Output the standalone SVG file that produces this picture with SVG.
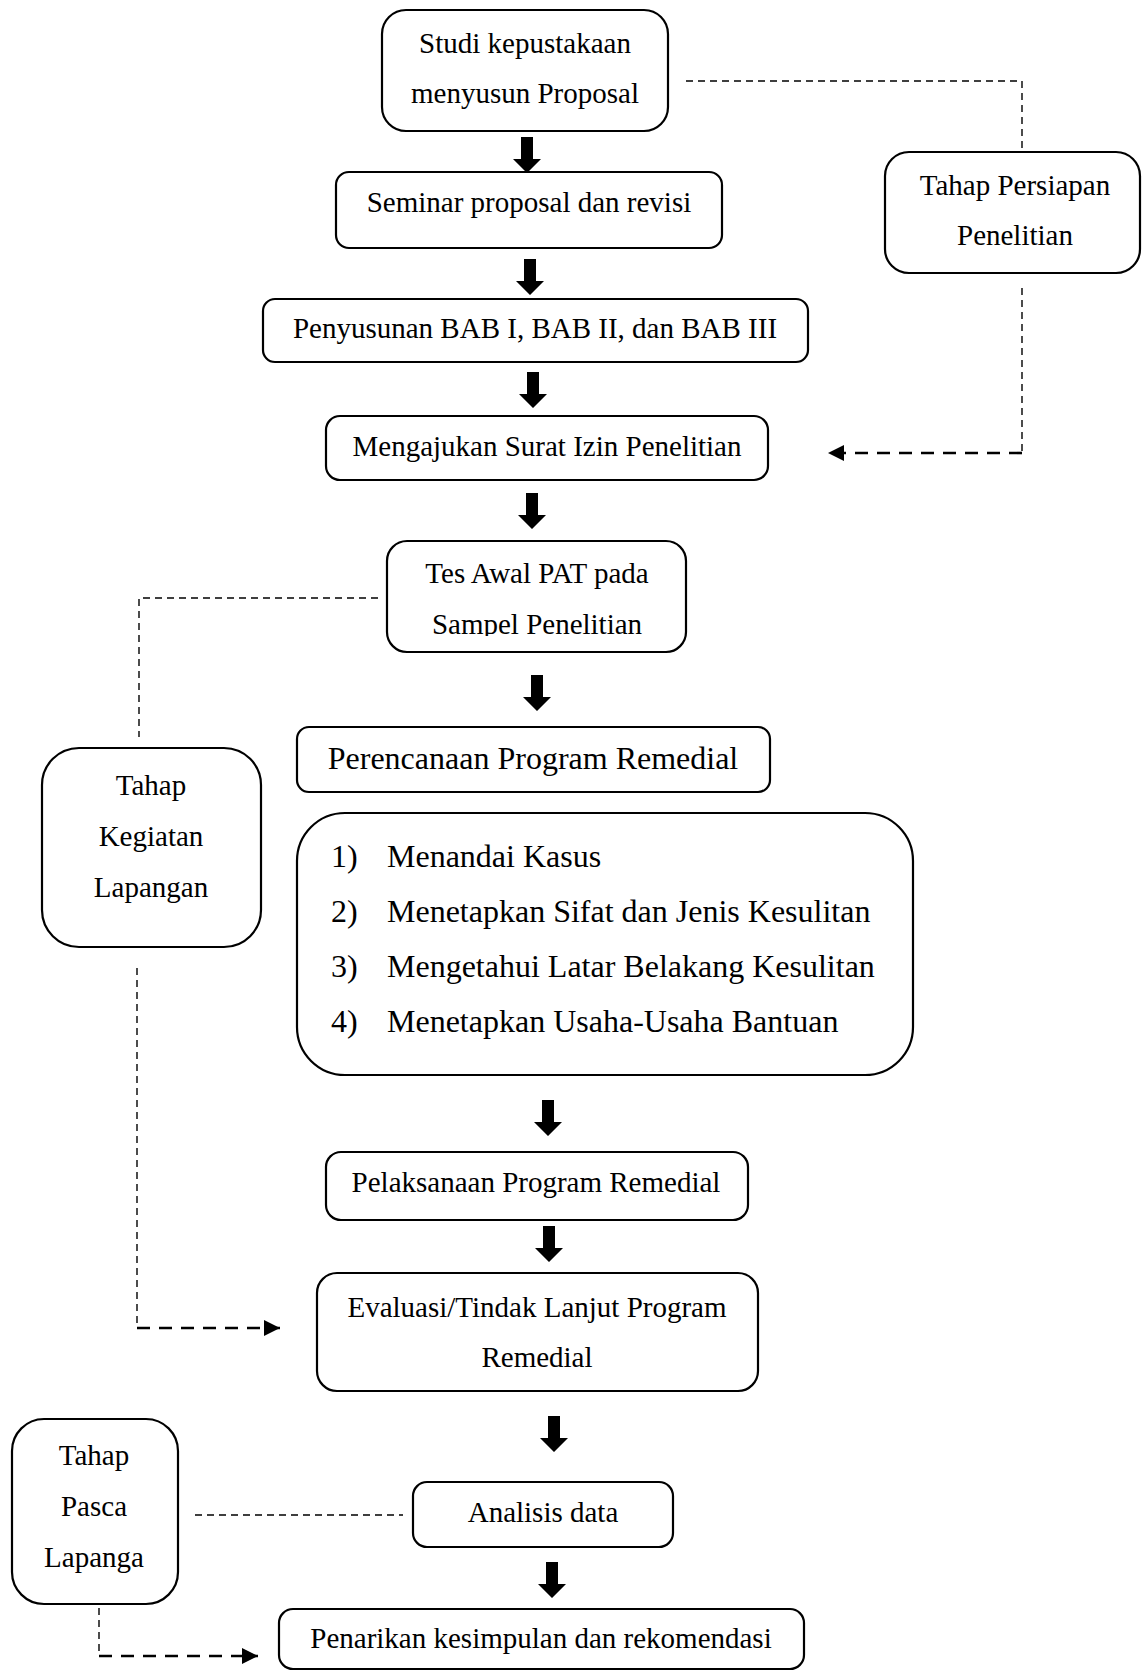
<svg xmlns="http://www.w3.org/2000/svg" xmlns:xlink="http://www.w3.org/1999/xlink" width="1142" height="1672" viewBox="0 0 1142 1672">
<style>
.box{fill:#fff;stroke:#000;stroke-width:2.2}
.t{font-family:"Liberation Serif","Times New Roman",serif;font-size:29px;fill:#000;text-anchor:middle}
.tl{font-family:"Liberation Serif","Times New Roman",serif;font-size:32px;fill:#000}
.thin{fill:none;stroke:#000;stroke-width:1.4;stroke-dasharray:7 5}
.thick{fill:none;stroke:#000;stroke-width:2.6;stroke-dasharray:13 9}
.blk{fill:#000}
</style>
<defs>
<path id="blk" d="M-6,0 H6 V22 H14 L0,36 L-14,22 H-6 Z"/>
<marker id="ah" markerUnits="userSpaceOnUse" markerWidth="16" markerHeight="16" refX="16" refY="8" orient="auto">
<path d="M0,0 L16,8 L0,16 Z" fill="#000"/>
</marker>
<clipPath id="clipTes"><rect x="380" y="540" width="320" height="96"/></clipPath>
</defs>
<rect width="1142" height="1672" fill="#fff"/>

<g id="connectors">
<polyline class="thin" points="686,81 1022,81 1022,148"/>
<polyline class="thin" points="1022,288 1022,453"/>
<line class="thick" x1="1022" y1="453" x2="828" y2="453" marker-end="url(#ah)"/>
<polyline class="thin" points="378,598 139,598 139,737"/>
<polyline class="thin" points="137,968 137,1328"/>
<line class="thick" x1="137" y1="1328" x2="280" y2="1328" marker-end="url(#ah)"/>
<line class="thin" x1="195" y1="1515" x2="403" y2="1515"/>
<polyline class="thin" points="99,1608 99,1656"/>
<line class="thick" x1="99" y1="1656" x2="258" y2="1656" marker-end="url(#ah)"/>
<use xlink:href="#blk" href="#blk" x="527" y="137"/>
<use xlink:href="#blk" href="#blk" x="530" y="259"/>
<use xlink:href="#blk" href="#blk" x="533" y="372"/>
<use xlink:href="#blk" href="#blk" x="532" y="493"/>
<use xlink:href="#blk" href="#blk" x="537" y="675"/>
<use xlink:href="#blk" href="#blk" x="548" y="1100"/>
<use xlink:href="#blk" href="#blk" x="549" y="1226"/>
<use xlink:href="#blk" href="#blk" x="554" y="1416"/>
<use xlink:href="#blk" href="#blk" x="552" y="1562"/>
</g>

<g id="studi">
<rect class="box" x="382" y="10" width="286" height="121" rx="24"/>
<text class="t" x="525" y="53">Studi kepustakaan</text>
<text class="t" x="525" y="103">menyusun Proposal</text>
</g>

<g id="seminar">
<rect class="box" x="336" y="172" width="386" height="76" rx="13"/>
<text class="t" x="529" y="212">Seminar proposal dan revisi</text>
</g>

<g id="penyusunan">
<rect class="box" x="263" y="299" width="545" height="63" rx="12"/>
<text class="t" x="535" y="338">Penyusunan BAB I, BAB II, dan BAB III</text>
</g>

<g id="mengajukan">
<rect class="box" x="326" y="416" width="442" height="64" rx="14"/>
<text class="t" x="547" y="456">Mengajukan Surat Izin Penelitian</text>
</g>

<g id="tes">
<rect class="box" x="387" y="541" width="299" height="111" rx="20"/>
<text class="t" x="537" y="583">Tes Awal PAT pada</text>
<text class="t" x="537" y="634" clip-path="url(#clipTes)">Sampel Penelitian</text>
</g>

<g id="persiapan">
<rect class="box" x="885" y="152" width="255" height="121" rx="24"/>
<text class="t" x="1015" y="195">Tahap Persiapan</text>
<text class="t" x="1015" y="245">Penelitian</text>
</g>

<g id="kegiatan">
<rect class="box" x="42" y="748" width="219" height="199" rx="37"/>
<text class="t" x="151" y="795">Tahap</text>
<text class="t" x="151" y="846">Kegiatan</text>
<text class="t" x="151" y="897">Lapangan</text>
</g>

<g id="perencanaan">
<rect class="box" x="297" y="727" width="473" height="65" rx="12"/>
<text class="t" x="533" y="769" style="font-size:32px">Perencanaan Program Remedial</text>
</g>

<g id="langkah">
<rect class="box" x="297" y="813" width="616" height="262" rx="48"/>
<text class="tl" x="331" y="867">1)</text>
<text class="tl" x="387" y="867">Menandai Kasus</text>
<text class="tl" x="331" y="922">2)</text>
<text class="tl" x="387" y="922">Menetapkan Sifat dan Jenis Kesulitan</text>
<text class="tl" x="331" y="977">3)</text>
<text class="tl" x="387" y="977">Mengetahui Latar Belakang Kesulitan</text>
<text class="tl" x="331" y="1032">4)</text>
<text class="tl" x="387" y="1032">Menetapkan Usaha-Usaha Bantuan</text>
</g>

<g id="pelaksanaan">
<rect class="box" x="326" y="1152" width="422" height="68" rx="15"/>
<text class="t" x="536" y="1192">Pelaksanaan Program Remedial</text>
</g>

<g id="evaluasi">
<rect class="box" x="317" y="1273" width="441" height="118" rx="20"/>
<text class="t" x="537" y="1317">Evaluasi/Tindak Lanjut Program</text>
<text class="t" x="537" y="1367">Remedial</text>
</g>

<g id="pasca">
<rect class="box" x="12" y="1419" width="166" height="185" rx="32"/>
<text class="t" x="94" y="1465">Tahap</text>
<text class="t" x="94" y="1516">Pasca</text>
<text class="t" x="94" y="1567">Lapanga</text>
</g>

<g id="analisis">
<rect class="box" x="413" y="1482" width="260" height="65" rx="14"/>
<text class="t" x="543" y="1522">Analisis data</text>
</g>

<g id="penarikan">
<rect class="box" x="279" y="1609" width="525" height="60" rx="14"/>
<text class="t" x="541" y="1648">Penarikan kesimpulan dan rekomendasi</text>
</g>
</svg>
